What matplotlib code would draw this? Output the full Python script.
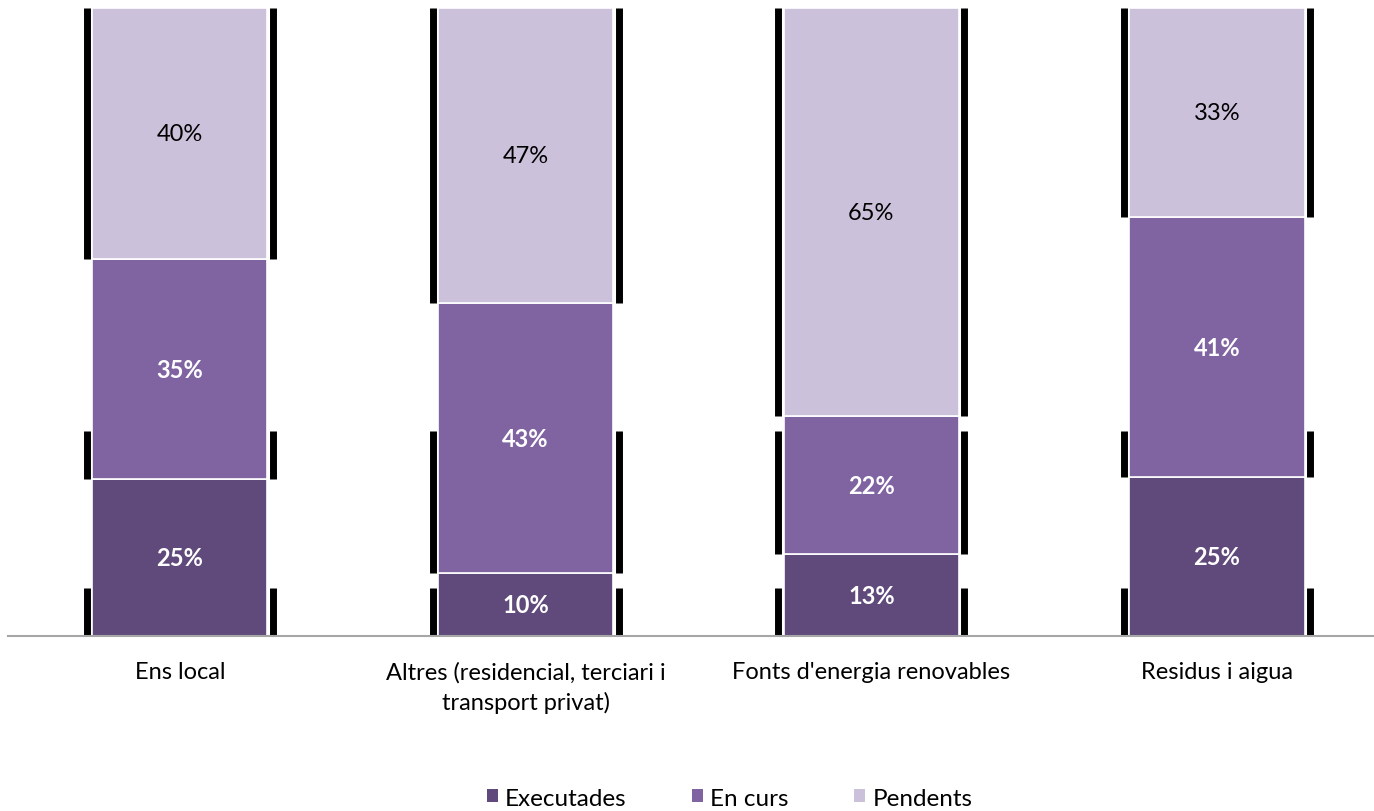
import matplotlib
matplotlib.use("Agg")
from matplotlib import pyplot as plt
from matplotlib.patches import Patch
import numpy as np

plt.rcParams['font.family'] = ['Lato', 'DejaVu Sans']

categories = ["Ens local", "Altres (residencial, terciari i\ntransport privat)",
              "Fonts d'energia renovables", "Residus i aigua"]
series = ["Executades", "En curs", "Pendents"]
executades = [25, 10, 13, 25]
en_curs = [35, 43, 22, 41]
pendents = [40, 47, 65, 33]

colors = ["#604a7b", "#8064a2", "#ccc1da"]
label_colors = ["white", "white", "black"]
label_weights = ["bold", "bold", "normal"]
# heights where the black side marks of each series stop (as in the source image)
mark_top = [0.077, 0.327, 1.0]

values = np.array([executades, en_curs, pendents], dtype=float)
shares = values / values.sum(axis=0)

fig = plt.figure(figsize=(13.74, 8.12), dpi=100)
ax = fig.add_axes([8 / 1374, (812 - 637) / 812, 1 - 8 / 1374, (637 - 9) / 812])

x = np.arange(len(categories))
width = 0.507
bottom = np.zeros(len(categories))
for i, name in enumerate(series):
    top = bottom + shares[i]
    # black side marks behind the bars
    for j in range(len(categories)):
        y1 = min(top[j], mark_top[i])
        if y1 > bottom[j]:
            for side in (-1, 1):
                ax.plot([x[j] + side * 0.269] * 2, [bottom[j], y1], color="black",
                        lw=5, solid_capstyle="butt", zorder=1)
    ax.bar(x, shares[i], width, bottom=bottom, color=colors[i], edgecolor="white",
           linewidth=1.2, zorder=2, label=name)
    for j in range(len(categories)):
        ax.text(x[j], bottom[j] + shares[i][j] / 2, f"{values[i][j]:.0f}%",
                ha="center", va="center", fontsize=17, color=label_colors[i],
                fontweight=label_weights[i], zorder=3)
    bottom = top

ax.set_xlim(-0.497, 3.454)
ax.set_ylim(0, 1)
ax.set_yticks([])
ax.set_xticks(x)
ax.set_xticklabels(categories, fontsize=17, linespacing=1.45)
ax.tick_params(axis="x", length=0, pad=18)
for s in ["top", "right", "left"]:
    ax.spines[s].set_visible(False)
ax.spines["bottom"].set_color("#a6a6a6")
ax.spines["bottom"].set_linewidth(1.5)
ax.spines["bottom"].set_zorder(4)

handles = [Patch(facecolor=c, edgecolor="none") for c in colors]
fig.legend(handles, series, loc="lower center", bbox_to_anchor=(0.531, -0.024), ncol=3,
           frameon=False, fontsize=17.5, handlelength=0.45, handleheight=0.45,
           handletextpad=0.3, columnspacing=2.7)

fig.savefig("out.png", dpi=100)
